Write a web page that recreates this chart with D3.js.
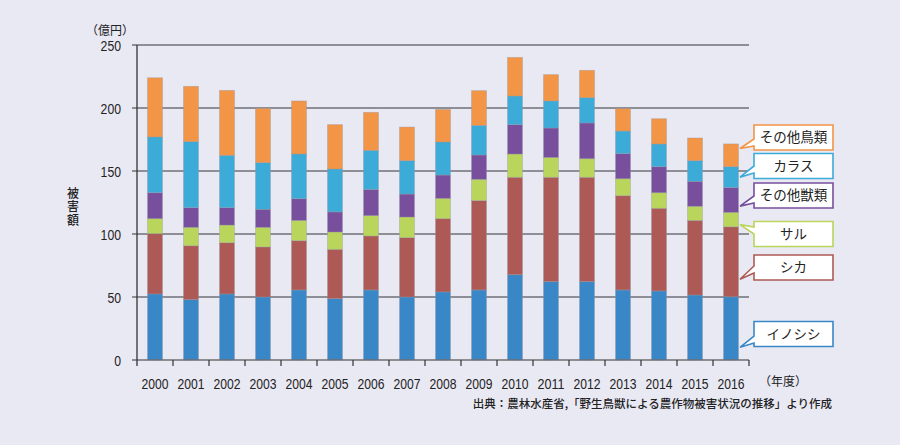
<!DOCTYPE html>
<html><head><meta charset="utf-8">
<script src="https://cdn.jsdelivr.net/npm/d3@7"></script>
<style>
html,body{margin:0;padding:0;background:#e9e9f4;}
svg{display:block;}
</style></head>
<body><svg id="chart" width="900" height="445"></svg>
<script>
// ---- data (億円) ----
const years = ["2000","2001","2002","2003","2004","2005","2006","2007","2008","2009","2010","2011","2012","2013","2014","2015","2016"];
const seriesNames = ["イノシシ","シカ","サル","その他獣類","カラス","その他鳥類"];
const inoshishi   = [52.4,47.9,52.4,50.0,55.6,48.7,55.6,50.0,54.0,55.6,67.7,62.2,62.2,55.6,54.8,51.6,50.2];
const shika       = [47.9,42.8,40.7,39.7,39.1,39.1,42.8,47.1,58.2,70.9,77.3,82.8,82.8,74.8,65.6,59.2,55.5];
const saru        = [11.9,14.6,14.0,15.6,16.1,13.8,16.2,16.4,16.1,16.9,18.5,15.8,14.8,13.5,12.4,11.2,11.5];
const sonotaJu    = [20.6,15.6,13.8,14.3,17.2,15.9,20.8,18.2,18.5,19.3,23.3,23.3,28.3,19.9,20.6,19.8,19.7];
const karasu      = [44.2,52.4,41.5,37.0,35.5,34.1,31.0,26.5,26.2,23.5,22.7,21.5,20.1,17.9,18.0,16.4,16.5];
const sonotaCho   = [47.0,43.9,51.6,43.1,42.1,35.2,30.2,26.7,25.9,27.6,30.7,20.9,21.7,17.8,20.1,18.0,18.1];
const yTicks = [0,50,100,150,200,250];
const colors = ["#3a87c7","#ad5a56","#b9d55b","#774f9d","#3cabd8","#f29546"];

const seriesValues = [inoshishi, shika, saru, sonotaJu, karasu, sonotaCho];
const table = years.map((y,i)=>{
  const row = {year:y};
  seriesNames.forEach((s,k)=>row[s]=seriesValues[k][i]);
  return row;
});

const svg = d3.select("#chart");
const x = d3.scaleBand().domain(years).range([137,749]).paddingInner(0.583).paddingOuter(0.2915);
const y = d3.scaleLinear().domain([0,250]).range([360,45]);
const jp = "'Noto Sans CJK JP','Noto Sans',sans-serif";
const num = "'Liberation Sans',Arial,sans-serif";

// gridlines
svg.append("g").selectAll("line").data(yTicks.filter(d=>d>0)).join("line")
  .attr("x1",132).attr("x2",749).attr("y1",d=>y(d)).attr("y2",d=>y(d))
  .attr("stroke","#8e8e96").attr("stroke-width",2);

// bars
const stack = d3.stack().keys(seriesNames)(table);
svg.append("g").selectAll("g").data(stack).join("g")
  .attr("fill",(d,i)=>colors[i])
  .selectAll("rect").data(d=>d).join("rect")
  .attr("x",d=>x(d.data.year))
  .attr("width",x.bandwidth())
  .attr("y",d=>y(d[1]))
  .attr("height",d=>y(d[0])-y(d[1]))
  .attr("stroke","rgba(150,150,160,0.45)").attr("stroke-width",0.8);

// x axis baseline + ticks at band boundaries
svg.append("line").attr("x1",132).attr("x2",749).attr("y1",y(0)).attr("y2",y(0))
  .attr("stroke","#6e6e74").attr("stroke-width",1.5);
const bounds = years.map(d=>x(d)-x.step()*x.paddingInner()/2).concat([749]);
svg.append("g").selectAll("line").data(bounds.slice(1)).join("line")
  .attr("x1",d=>d).attr("x2",d=>d).attr("y1",y(0)).attr("y2",y(0)+6)
  .attr("stroke","#333").attr("stroke-width",1.2);
// y axis
svg.append("line").attr("x1",137).attr("x2",137).attr("y1",y(250)).attr("y2",y(0)+6)
  .attr("stroke","#333").attr("stroke-width",1.3);

// tick labels (narrow digits)
svg.append("g").selectAll("text").data(years).join("text")
  .attr("x",d=>x(d)+x.bandwidth()/2).attr("y",389)
  .attr("text-anchor","middle").attr("font-family",num).attr("font-size",15).attr("fill","#222")
  .attr("textLength",27).attr("lengthAdjust","spacingAndGlyphs")
  .text(d=>d);
svg.append("g").selectAll("text").data(yTicks).join("text")
  .attr("x",121).attr("y",d=>y(d)+5.5)
  .attr("text-anchor","end").attr("font-family",num).attr("font-size",15).attr("fill","#222")
  .attr("textLength",d=>String(d).length*6.8).attr("lengthAdjust","spacingAndGlyphs")
  .text(d=>d);

// axis titles
svg.append("text").attr("x",110).attr("y",35).attr("text-anchor","middle")
  .attr("font-family",jp).attr("font-size",12).attr("fill","#222").text("（億円）");
svg.append("text").attr("x",73).attr("y",187)
  .style("writing-mode","vertical-rl").style("letter-spacing","1.5px")
  .attr("font-family",jp).attr("font-size",12).attr("font-weight",500).attr("fill","#222").text("被害額");
svg.append("text").attr("x",783).attr("y",386).attr("text-anchor","middle")
  .attr("font-family",jp).attr("font-size",12).attr("fill","#222").text("（年度）");
svg.append("text").attr("x",832).attr("y",408).attr("text-anchor","end")
  .attr("font-family",jp).attr("font-size",11.5).attr("font-weight",500).attr("fill","#222")
  .text("出典：農林水産省,「野生鳥獣による農作物被害状況の推移」より作成");

// callout labels (pointing at the 2016 bar)
const calloutTop  = [321.5,255,221.5,183,153.5,125];   // box tops (px)
const calloutBase = [[336,343],[266,273],[227,234],[196,203],[166,173],[139,146]];
const last = stack.map(s=>s[s.length-1]);
const tipFrac = [0.2,0.25,0.15,0.25,0.5,0.8];
const bx = 754, bw = 79, bh = 25, tipX = 740;
seriesNames.forEach((name,i)=>{
  const seg = last[i];
  const tipY = y(seg[0] + (seg[1]-seg[0])*tipFrac[i]);
  const t = calloutTop[i], [b1,b2] = calloutBase[i];
  const p = d3.path();
  p.moveTo(bx,t); p.lineTo(bx+bw,t); p.lineTo(bx+bw,t+bh); p.lineTo(bx,t+bh);
  p.lineTo(bx,b2); p.lineTo(tipX,tipY); p.lineTo(bx,b1); p.closePath();
  svg.append("path").attr("d",p.toString()).attr("fill","#fff")
    .attr("stroke",colors[i]).attr("stroke-width",1.6).attr("stroke-linejoin","miter");
  svg.append("text").attr("x",bx+bw/2).attr("y",t+bh/2+4.8).attr("text-anchor","middle")
    .attr("font-family",jp).attr("font-size",13.5).attr("fill","#222").text(name);
});
</script></body></html>
